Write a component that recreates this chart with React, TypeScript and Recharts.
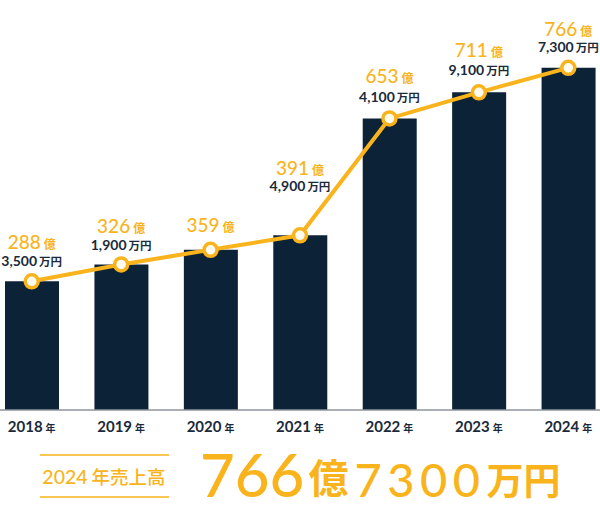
import { ComposedChart, Bar, Line, XAxis, YAxis, LabelList } from "recharts";

const years = ["2018", "2019", "2020", "2021", "2022", "2023", "2024"];
const okuValues = [288, 326, 359, 391, 653, 711, 766];
const manValues = [3500, 1900, 0, 4900, 4100, 9100, 7300];

const salesData = years.map((year, i) => ({
  year,
  oku: okuValues[i],
  man: manValues[i],
  total: okuValues[i] + manValues[i] / 10000,
}));

const YELLOW = "#f9b41d";
const NAVY = "#0c2236";
const INK = "#1a2a3a";
const NUM_FONT = "Lato, 'Noto Sans CJK JP', sans-serif";

// how far above the dot each label pair sits (yellow line, dark line)
const labelLift = [
  [38, 20],
  [37, 19],
  [24, 0],
  [66, 49],
  [41, 21],
  [41, 22],
  [38, 21],
];

const YearTick = (props: any) => {
  const { x, y, payload } = props;
  return (
    <text x={x} y={y + 14} textAnchor="middle" fill={INK} fontFamily={NUM_FONT}>
      <tspan fontSize={15} fontWeight={700}>{payload.value}</tspan>
      <tspan fontSize={10} fontWeight={700} dx={3}>年</tspan>
    </text>
  );
};

const PointLabel = (props: any) => {
  const { x, y, index } = props;
  const d = salesData[index];
  const [upper, lower] = labelLift[index];
  return (
    <g fontFamily={NUM_FONT}>
      <text x={x} y={y - upper + 6} textAnchor="middle" fill={YELLOW}>
        <tspan fontSize={19} fontWeight={500}>{d.oku}</tspan>
        <tspan fontSize={12} fontWeight={700} dx={3}>億</tspan>
      </text>
      {d.man > 0 && (
        <text x={x} y={y - lower + 5} textAnchor="middle" fill={INK}>
          <tspan fontSize={14} fontWeight={700}>{d.man.toLocaleString("en-US")}</tspan>
          <tspan fontSize={11.5} fontWeight={700} dx={2}>万円</tspan>
        </text>
      )}
    </g>
  );
};

export default function App() {
  const last = salesData[salesData.length - 1];
  return (
    <div
      style={{
        position: "absolute",
        left: 0,
        top: 0,
        width: 600,
        height: 514,
        overflow: "hidden",
        background: "#fff",
      }}
    >
      <div style={{ position: "absolute", left: -13, top: 0 }}>
        <ComposedChart
          width={626}
          height={440}
          data={salesData}
          margin={{ top: 53, right: 0, bottom: 0, left: 0 }}
        >
          <XAxis
            dataKey="year"
            height={30}
            tickLine={false}
            axisLine={{ stroke: "#8c949c", strokeWidth: 1.5 }}
            tick={<YearTick />}
            interval={0}
          />
          <YAxis hide domain={[0, 800]} />
          <Bar dataKey="total" fill={NAVY} barSize={54} isAnimationActive={false} />
          <Line
            dataKey="total"
            stroke={YELLOW}
            strokeWidth={4}
            dot={{ r: 6.5, fill: "#fffbee", stroke: YELLOW, strokeWidth: 3.5 }}
            isAnimationActive={false}
          >
            <LabelList dataKey="total" content={<PointLabel />} />
          </Line>
        </ComposedChart>
      </div>

      <svg width={600} height={514} style={{ position: "absolute", left: 0, top: 0 }}>
        <line x1={40} x2={169} y1={455} y2={455} stroke={YELLOW} strokeWidth={1.5} />
        <line x1={40} x2={169} y1={497} y2={497} stroke={YELLOW} strokeWidth={1.5} />
        <text x={104} y={484} textAnchor="middle" fill={YELLOW} fontFamily={NUM_FONT}>
          <tspan fontSize={19.5} fontWeight={500}>{last.year}</tspan>
          <tspan fontSize={18.5} fontWeight={500} dx={4} fontFamily="'Noto Sans CJK JP'">年売上高</tspan>
        </text>
        <text x={200} y={497} fill={YELLOW} fontFamily={NUM_FONT}>
          <tspan fontSize={60} fontWeight={500}>{last.oku}</tspan>
          <tspan fontSize={40} fontWeight={700} dx={4} fontFamily="'Noto Sans CJK JP'" dy={-4}>億</tspan>
          <tspan fontSize={47} fontWeight={500} dx={6} dy={4} letterSpacing={5.5}>{last.man}</tspan>
          <tspan fontSize={37} fontWeight={700} dx={1} dy={-2} fontFamily="'Noto Sans CJK JP'">万円</tspan>
        </text>
      </svg>
    </div>
  );
}
